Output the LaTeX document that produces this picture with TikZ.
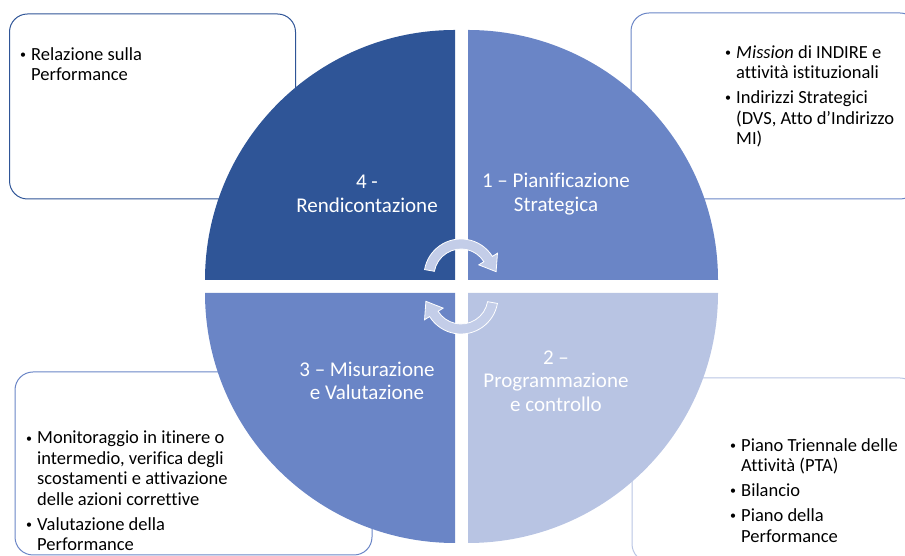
\documentclass[tikz,border=0pt]{standalone}
\usepackage{fontspec}
\setmainfont{Carlito}[Ligatures={NoCommon,NoContextual}]
\usepackage{tikz}
\usetikzlibrary{positioning}
\definecolor{darkq}{HTML}{2F5597}
\definecolor{midq}{HTML}{6A85C6}
\definecolor{lightq}{HTML}{B8C4E3}
\definecolor{arrowq}{HTML}{C3CDE8}
\tikzset{%
  notebox/.style={draw, rounded corners=18pt, line width=1pt},
  notetext/.style={anchor=north west, inner sep=0pt, align=left, font=\fontsize{18.5}{20.5}\selectfont},
  phasetext/.style={inner sep=0pt, align=center, text=white, font=\fontsize{21}{23.5}\selectfont},
  cyclearrow/.style={fill=arrowq, draw=white, line width=0.8pt},
  pics/cyclearc/.style={code={
    \draw[cyclearrow] (170:37) arc[start angle=170, end angle=32, radius=37]
      -- (32:43) -- (35.1,4.3) -- (32:21) -- (32:27)
      arc[start angle=32, end angle=170, radius=27] -- cycle;}}}
\newcommand{\bul}{\makebox[11pt][l]{\raisebox{1.6pt}{\fontsize{12}{12}\selectfont\textbullet}}}
\newcommand{\ind}{\hspace*{11pt}}

\begin{document}
\begin{tikzpicture}[x=1pt, y=1pt]
    \useasboundingbox (0,0) rectangle (905,556);
    \clip (0,0) rectangle (905,556);
    % Note boxes behind the circle
    \draw[notebox, darkq] (9.5,357) rectangle (295.5,542);
    \draw[notebox, midq] (631,357) rectangle (918,543);
    \draw[notebox, midq] (15,1) rectangle (372,184);
    \draw[notebox, lightq] (632,-6) rectangle (918,178);
    % Quarters of the cycle
    \fill[darkq] (455,276) -- ++(-250,0) arc[start angle=180, end angle=90, radius=250] -- cycle;
    \fill[midq] (468,276) -- ++(0,250) arc[start angle=90, end angle=0, radius=250] -- cycle;
    \fill[midq] (455,263) -- ++(0,-250) arc[start angle=270, end angle=180, radius=250] -- cycle;
    \fill[lightq] (468,263) -- ++(250,0) arc[start angle=0, end angle=-90, radius=250] -- cycle;
    % Circular arrows in the middle
    \pic at (461,280) {cyclearc};
    \pic[rotate=180] at (461,259) {cyclearc};
    % Phase labels
    \node[phasetext] (p4) at (367,362) {4 -\\Rendicontazione};
    \node[phasetext] (p1) at (556,362) {1 – Pianificazione\\Strategica};
    \node[phasetext] (p3) at (367,175) {3 – Misurazione\\e Valutazione};
    \node[phasetext] (p2) at (556,175) {2 –\\Programmazione\\e controllo};
    % Notes
    \node[notetext] (n4) at (20,509) {\bul Relazione sulla\\\ind Performance};
    \node[notetext] (n1) at (725,511) {\bul\textit{Mission} di INDIRE e\\\ind attività istituzionali\\[4.5pt]\bul Indirizzi Strategici\\\ind (DVS, Atto d’Indirizzo\\\ind MI)};
    \node[notetext] (n3) at (26,125) {\bul Monitoraggio in itinere o\\\ind intermedio, verifica degli\\\ind scostamenti e attivazione\\\ind delle azioni correttive\\[4.5pt]\bul Valutazione della\\\ind Performance};
    \node[notetext] (n2) at (730,118) {\bul Piano Triennale delle\\\ind Attività (PTA)\\[4.5pt]\bul Bilancio\\[4.5pt]\bul Piano della\\\ind Performance};
  \end{tikzpicture}
\end{document}
